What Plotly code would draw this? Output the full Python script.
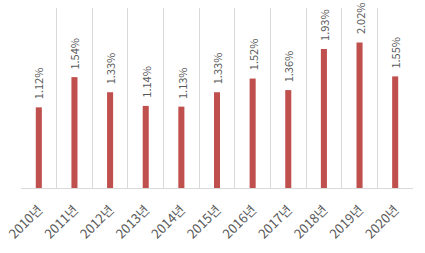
import plotly.graph_objects as go

years = ["2010년", "2011년", "2012년", "2013년", "2014년", "2015년",
         "2016년", "2017년", "2018년", "2019년", "2020년"]
values = [1.12, 1.54, 1.33, 1.14, 1.13, 1.33, 1.52, 1.36, 1.93, 2.02, 1.55]
labels = [f"{v:.2f}%" for v in values]

fig = go.Figure(go.Bar(
    x=years, y=values,
    marker=dict(color="#c0504d", line=dict(width=0)),
    width=0.17,
))

for yr, v, lab in zip(years, values, labels):
    fig.add_annotation(
        x=yr, y=v, text=lab, textangle=-90, showarrow=False,
        xanchor="center", yanchor="bottom", yshift=6,
        font=dict(color="#595959", size=11, family="Noto Sans CJK KR"),
    )

fig.update_layout(
    width=425, height=253,
    margin=dict(l=21, r=12, t=8, b=65, autoexpand=False),
    paper_bgcolor="white", plot_bgcolor="white",
    showlegend=False,
    font=dict(family="Noto Sans CJK KR", color="#595959"),
    xaxis=dict(
        type="category", tickson="boundaries", showgrid=True,
        gridcolor="#d9d9d9", gridwidth=1,
        showline=True, linecolor="#d9d9d9", linewidth=1,
        ticks="", tickangle=-45, automargin=False,
        ticklabelstandoff=8,
        tickfont=dict(size=13, color="#595959"),
        range=[-0.5, 10.5],
    ),
    yaxis=dict(range=[0, 2.5], visible=False, showgrid=False),
)

fig.write_html("out.html")
